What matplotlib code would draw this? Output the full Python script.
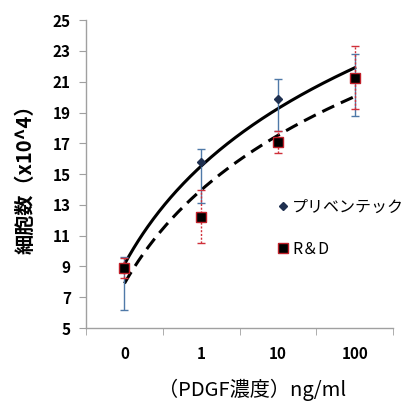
import numpy as np
import matplotlib
matplotlib.use("Agg")
import matplotlib.pyplot as plt
from matplotlib.lines import Line2D

plt.rcParams['font.family'] = ['Noto Sans CJK JP', 'DejaVu Sans']

categories = ["0", "1", "10", "100"]
series_names = ["プリベンテック", "R＆D"]
prev_vals = [8.9, 15.76, 19.87, 21.3]
prev_err_lo = [2.7, 2.66, 2.07, 2.51]
prev_err_hi = [0.7, 0.85, 1.3, 1.47]
rd_vals = [8.87, 12.2, 17.1, 21.25]
rd_err_lo = [0.62, 1.7, 0.7, 2.05]
rd_err_hi = [0.65, 1.76, 0.7, 2.08]
y_ticks = list(range(5, 26, 2))

fig = plt.figure(figsize=(4.12, 4.03), dpi=100)
ax = fig.add_axes([0.209, 0.186, 0.745, 0.764])

x = np.arange(1, len(categories) + 1)

# trend lines (log fits, Excel style)
xs = np.linspace(1, len(categories), 200)
for vals, ls in [(prev_vals, '-'), (rd_vals, (0, (4.3, 2.4)))]:
    a, b = np.polyfit(np.log(x), vals, 1)
    ax.plot(xs, a * np.log(xs) + b, color='black', lw=2.2, ls=ls, zorder=2)

# error bars
ax.errorbar(x, prev_vals, yerr=[prev_err_lo, prev_err_hi], fmt='none',
            ecolor='#4f79a8', elinewidth=1.0, capsize=3, capthick=1.0, zorder=3)
eb2 = ax.errorbar(x, rd_vals, yerr=[rd_err_lo, rd_err_hi], fmt='none',
                  ecolor='#d0303a', elinewidth=1.0, capsize=3, capthick=1.0, zorder=3)
for lc in eb2[2]:
    lc.set_linestyle((0, (1.5, 1.2)))

ax.plot(x, prev_vals, ls='none', marker='D', ms=4.5, color='#1f3050', zorder=4)
ax.plot(x, rd_vals, ls='none', marker='s', ms=6.5, mfc='black', mec='#c0202a',
        mew=1.0, zorder=5)

ax.set_xlim(0.5, len(categories) + 0.5)
ax.set_ylim(5, 25)
ax.set_yticks(y_ticks)
ax.set_yticklabels([str(v) for v in y_ticks], fontsize=11, fontweight='bold')
ax.set_xticks(x)
ax.set_xticklabels(categories, fontsize=11, fontweight='bold')
ax.set_xticks(np.arange(0.5, len(categories) + 1, 1), minor=True)
ax.tick_params(axis='x', which='major', length=0, pad=13)
ax.tick_params(axis='x', which='minor', length=5, color='#a0a0a0', direction='out')
ax.tick_params(axis='y', length=5, color='#a0a0a0', direction='out', pad=6)

for s in ['top', 'right']:
    ax.spines[s].set_visible(False)
for s in ['left', 'bottom']:
    ax.spines[s].set_color('#a0a0a0')
    ax.spines[s].set_linewidth(1.0)

ax.set_ylabel("細胞数（x10^4）", fontsize=14.5, fontweight='bold')
ax.yaxis.set_label_coords(-0.165, 0.5)
ax.set_xlabel("（PDGF濃度）ng/ml", fontsize=14.5)
ax.xaxis.set_label_coords(0.54, -0.165)

handles = [
    Line2D([], [], ls='none', marker='D', ms=4, color='#1f3050'),
    Line2D([], [], ls='none', marker='s', ms=6.5, mfc='black', mec='#c0202a', mew=1.0),
]
ax.legend(handles, series_names, loc='upper left', bbox_to_anchor=(0.625, 0.42),
          frameon=False, fontsize=11.5, labelspacing=1.55, handletextpad=0.3,
          handlelength=0.6, borderaxespad=0, borderpad=0)

fig.savefig("out.png", dpi=100)
